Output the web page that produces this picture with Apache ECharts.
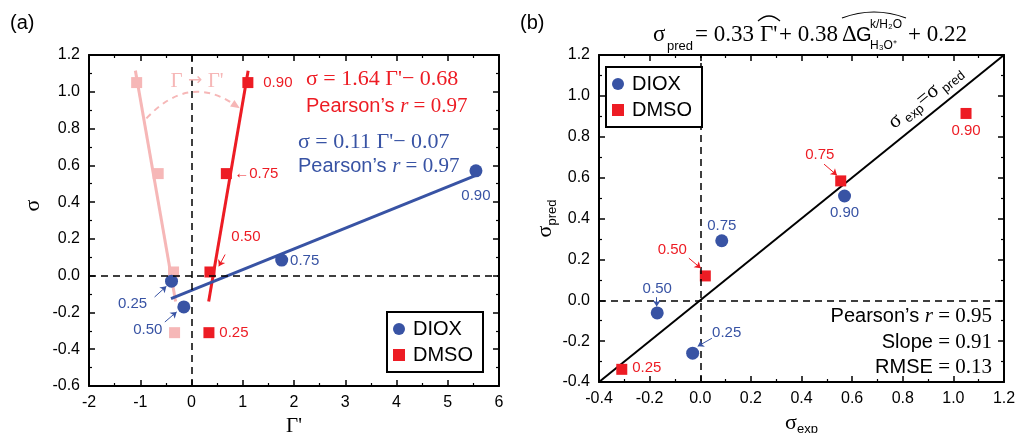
<!DOCTYPE html>
<html><head><meta charset="utf-8">
<script src="https://cdn.jsdelivr.net/npm/echarts@6/dist/echarts.min.js"></script>
<style>html,body{margin:0;padding:0;background:#fff}#c{width:1016px;height:433px}</style>
</head><body><div id="c"></div>
<script>
// ---------- data ----------
const fractions = ['0.25', '0.50', '0.75', '0.90'];
// panel (a)
const gammaTicks = [-2, -1, 0, 1, 2, 3, 4, 5, 6];
const sigmaTicksA = [-0.6, -0.4, -0.2, 0.0, 0.2, 0.4, 0.6, 0.8, 1.0, 1.2];
const dioxGammaPrime = [-0.39, -0.15, 1.76, 5.55];
const dioxSigmaExp = [-0.03, -0.17, 0.085, 0.57];
const dmsoGammaPrime = [0.34, 0.36, 0.68, 1.10];
const dmsoGamma = [-0.33, -0.35, -0.65, -1.07];
const dmsoSigmaExp = [-0.31, 0.02, 0.555, 1.05];
const dioxFitX = [-0.40, 5.55];
const dioxFitY = [-0.125, 0.545];
const dmsoFitX = [0.335, 1.105];
const dmsoFitY = [-0.14, 1.115];
const dmsoGammaFitX = [-0.31, -1.095];
const dmsoGammaFitY = [-0.14, 1.115];
// panel (b)
const sigmaTicksB = [-0.4, -0.2, 0.0, 0.2, 0.4, 0.6, 0.8, 1.0, 1.2];
const dioxSigmaPred = [-0.259, -0.062, 0.291, 0.51];
const dmsoSigmaPred = [-0.338, 0.119, 0.584, 0.914];
const parityLine = [-0.4, 1.2];

// ---------- styles / annotation placement ----------
const BLUE = '#3853a4', RED = '#ed1c24', PINK = '#f6b7b7', BLACK = '#000';
const SANS = 'Liberation Sans', SERIF = 'Liberation Serif';
const offA_diox = [[-39, 23], [-36, 23], [23, 1], [0, 25]];
const offA_dmso = [[25, 0], [36, -35], [30, 0], [30, 0]];
const preA_dmso = ['', '', '\u2190', ''];
const offB_diox = [[34, -20], [0, -24], [0, -15], [0, 17]];
const offB_dmso = [[25, -1], [-33, -26], [-21, -26], [0, 17]];
const arrowsA_diox = [[[-0.72, -0.116], [-0.49, -0.058]], [[-0.52, -0.252], [-0.29, -0.197]]];
const arrowsA_dmso = [[[0.656, 0.115], [0.533, 0.051]]];
const arcA = [[-0.88, 0.855], [0.91, 0.917]];   // Γ → Γ' arc (data units), bulge factor below
const arcBulge = 0.42;
const arrowsB_diox = [[[-0.172, 0.015], [-0.172, -0.03]], [[0.046, -0.186], [-0.01, -0.225]]];
const arrowsB_dmso = [[[0.489, 0.666], [0.54, 0.612]], [[-0.045, 0.206], [0.002, 0.157]]];

function zip(xs, ys) { return xs.map((x, i) => [x, ys[i]]); }
function pts(xs, ys, offs, color, pre) {
  return xs.map((x, i) => ({
    value: [x, ys[i]],
    label: { show: true, position: 'inside', offset: offs[i], align: 'center', verticalAlign: 'middle',
      formatter: (pre ? pre[i] : '') + fractions[i], color: color, fontSize: 15, fontFamily: SANS }
  }));
}
function arrows(list, color) {
  return {
    silent: true, animation: false, symbol: ['none', 'arrow'], symbolSize: 6,
    label: { show: false }, emphasis: { disabled: true },
    lineStyle: { color: color, width: 1, type: 'solid' },
    data: list.map(a => [{ coord: a[0] }, { coord: a[1] }])
  };
}
const zeroLines = {
  silent: true, animation: false, symbol: ['none', 'none'], label: { show: false },
  emphasis: { disabled: true },
  lineStyle: { color: BLACK, width: 1.5, type: [7, 5] },
  data: [{ xAxis: 0 }, { yAxis: 0 }]
};
const subRich = {
  s: { fontFamily: SERIF, fontSize: 22, color: BLACK, verticalAlign: 'top' },
  b: { fontFamily: SANS, fontSize: 13, color: BLACK, verticalAlign: 'top', padding: [11, 0, 0, 0] }
};

function axis(ticks, pos, grid, showLabel, name, nameGap, nameStyle, digits) {
  return {
    type: 'value', gridIndex: grid, position: pos,
    min: ticks[0], max: ticks[ticks.length - 1], interval: +(ticks[1] - ticks[0]).toFixed(3),
    name: name || '', nameLocation: 'middle', nameGap: nameGap || 0,
    nameTextStyle: nameStyle || {},
    axisLine: { show: true, onZero: false, lineStyle: { color: BLACK, width: 2 } },
    axisTick: { show: true, inside: true, length: 6, lineStyle: { color: BLACK, width: 1.5 } },
    minorTick: { show: true, splitNumber: 2, length: 3, lineStyle: { color: BLACK, width: 1.2 } },
    splitLine: { show: false }, minorSplitLine: { show: false },
    axisLabel: { show: showLabel, color: BLACK, fontSize: 16, fontFamily: SANS, margin: 9,
      formatter: v => v.toFixed(digits) }
  };
}

const option = {
  animation: false,
  backgroundColor: '#fff',
  grid: [
    { left: 89, top: 55, right: 517, bottom: 47, containLabel: false, outerBoundsMode: 'none' },
    { left: 599, top: 55, right: 12, bottom: 51, containLabel: false, outerBoundsMode: 'none' }
  ],
  xAxis: [
    axis(gammaTicks, 'bottom', 0, true, "\u0393'", 30, { fontFamily: SERIF, fontSize: 21, color: BLACK, verticalAlign: 'top' }, 0),
    axis(gammaTicks, 'top', 0, false, '', 0, null, 0),
    axis(sigmaTicksB, 'bottom', 1, true, '{s|\u03c3}{b|exp}', 26, { verticalAlign: 'top', rich: subRich }, 1),
    axis(sigmaTicksB, 'top', 1, false, '', 0, null, 1)
  ],
  yAxis: [
    axis(sigmaTicksA, 'left', 0, true, '\u03c3', 45, { fontFamily: SERIF, fontSize: 22, color: BLACK, padding: [0, 0, 0, 30] }, 1),
    axis(sigmaTicksA, 'right', 0, false, '', 0, null, 1),
    axis(sigmaTicksB, 'left', 1, true, '{s|\u03c3}{b|pred}', 40, { rich: subRich }, 1),
    axis(sigmaTicksB, 'right', 1, false, '', 0, null, 1)
  ],
  legend: [0, 1].map(i => ({
    data: [{ name: 'DIOX', icon: 'circle' }, { name: 'DMSO', icon: 'rect' }],
    orient: 'vertical', left: i ? 606 : 387, top: i ? 67 : 312,
    itemWidth: 12, itemHeight: 12, itemGap: 6, padding: [7, 10, 7, 6],
    borderColor: BLACK, borderWidth: 2, borderRadius: 0, backgroundColor: '#fff',
    selectedMode: false, z: 10,
    textStyle: { color: BLACK, fontSize: 20, fontFamily: SANS, padding: [0, 0, 0, 3] }
  })),
  series: [
    { type: 'line', name: 'DMSO \u0393 fit', xAxisIndex: 0, yAxisIndex: 0, data: zip(dmsoGammaFitX, dmsoGammaFitY),
      symbol: 'none', lineStyle: { color: PINK, width: 3 }, z: 2, silent: true, markLine: zeroLines },
    { type: 'line', name: 'DMSO fit', xAxisIndex: 0, yAxisIndex: 0, data: zip(dmsoFitX, dmsoFitY),
      symbol: 'none', lineStyle: { color: RED, width: 3 }, z: 2, silent: true },
    { type: 'line', name: 'DIOX fit', xAxisIndex: 0, yAxisIndex: 0, data: zip(dioxFitX, dioxFitY),
      symbol: 'none', lineStyle: { color: BLUE, width: 3 }, z: 2, silent: true },
    { type: 'scatter', name: 'DMSO \u0393', xAxisIndex: 0, yAxisIndex: 0, data: zip(dmsoGamma, dmsoSigmaExp),
      symbol: 'rect', symbolSize: 11, itemStyle: { color: PINK, opacity: 1 }, z: 3 },
    { type: 'scatter', name: 'DMSO', xAxisIndex: 0, yAxisIndex: 0,
      data: pts(dmsoGammaPrime, dmsoSigmaExp, offA_dmso, RED, preA_dmso),
      symbol: 'rect', symbolSize: 11, itemStyle: { color: RED, opacity: 1 }, z: 4,
      markLine: arrows(arrowsA_dmso, RED) },
    { type: 'scatter', name: 'DIOX', xAxisIndex: 0, yAxisIndex: 0,
      data: pts(dioxGammaPrime, dioxSigmaExp, offA_diox, BLUE),
      symbol: 'circle', symbolSize: 13, itemStyle: { color: BLUE, opacity: 1 }, z: 4,
      markLine: arrows(arrowsA_diox, BLUE) },
    { type: 'line', name: 'parity', xAxisIndex: 2, yAxisIndex: 2, data: zip(parityLine, parityLine),
      symbol: 'none', lineStyle: { color: BLACK, width: 2 }, z: 2, silent: true, markLine: zeroLines },
    { type: 'scatter', name: 'DMSO', xAxisIndex: 2, yAxisIndex: 2,
      data: pts(dmsoSigmaExp, dmsoSigmaPred, offB_dmso, RED),
      symbol: 'rect', symbolSize: 11, itemStyle: { color: RED, opacity: 1 }, z: 4,
      markLine: arrows(arrowsB_dmso, RED) },
    { type: 'scatter', name: 'DIOX', xAxisIndex: 2, yAxisIndex: 2,
      data: pts(dioxSigmaExp, dioxSigmaPred, offB_diox, BLUE),
      symbol: 'circle', symbolSize: 13, itemStyle: { color: BLUE, opacity: 1 }, z: 4,
      markLine: arrows(arrowsB_diox, BLUE) }
  ]
};

// ---------- free text annotations ----------
const statRich = {
  sans: { fontFamily: SANS, fontSize: 20 },
  it: { fontFamily: SERIF, fontStyle: 'italic', fontSize: 21 },
  ser: { fontFamily: SERIF, fontSize: 21 }
};
function txt(x, y, text, extra) {
  const st = Object.assign({ text: text, x: x, y: y, fill: BLACK, fontFamily: SANS, fontSize: 20,
    align: 'left', textAlign: 'left', verticalAlign: 'middle', textVerticalAlign: 'middle' }, extra || {});
  if (st.align) st.textAlign = st.align;
  return { type: 'text', z: 20, silent: true, style: st };
}
const eqRich = { e: { fontFamily: SERIF, fontSize: 22 } };
const graphics = [
  txt(10, 23, '(a)'),
  txt(520, 23, '(b)'),
  txt(306, 79, "{e|\u03c3 = 1.64 \u0393'\u2212 0.68}", { fill: RED, rich: eqRich }),
  txt(306, 106, '{sans|Pearson\u2019s }{it|r}{ser| = 0.97}', { fill: RED, rich: statRich }),
  txt(298, 142, "{e|\u03c3 = 0.11 \u0393'\u2212 0.07}", { fill: BLUE, rich: eqRich }),
  txt(298, 166, '{sans|Pearson\u2019s }{it|r}{ser| = 0.97}', { fill: BLUE, rich: statRich }),
  txt(197, 81, "{g|\u0393}{a| \u2192 }{g|\u0393'}", { fill: PINK, align: 'center',
    rich: { g: { fontFamily: SERIF, fontSize: 21 }, a: { fontFamily: 'DejaVu Sans', fontSize: 17 } } }),
  txt(992, 316, '{sans|Pearson\u2019s }{it|r}{ser| = 0.95}', { rich: statRich, align: 'right' }),
  txt(992, 342, '{sans|Slope}{ser| = 0.91}', { rich: statRich, align: 'right' }),
  txt(992, 367, '{sans|RMSE}{ser| = 0.13}', { rich: statRich, align: 'right' }),
  { type: 'text', z: 20, silent: true, x: 926, y: 98, rotation: 0.679,
    style: { text: '{s|\u03c3}{b| exp}{s|=\u03c3}{b| pred}', x: 0, y: 0, fill: BLACK,
      align: 'center', textAlign: 'center', verticalAlign: 'middle', textVerticalAlign: 'middle',
      rich: { s: { fontFamily: SERIF, fontSize: 21, verticalAlign: 'top' },
              b: { fontFamily: SANS, fontSize: 13, verticalAlign: 'top', padding: [10, 0, 0, 0] } } } },
  txt(653, 35, '\u03c3', { fontFamily: SERIF, fontSize: 23 }),
  txt(667, 46, 'pred', { fontSize: 13 }),
  txt(695, 35, '= 0.33', { fontFamily: SERIF, fontSize: 23 }),
  txt(760, 35, "\u0393'", { fontFamily: SERIF, fontSize: 23 }),
  txt(779, 35, '+ 0.38', { fontFamily: SERIF, fontSize: 23 }),
  txt(842, 35, '\u0394', { fontFamily: SERIF, fontSize: 23 }),
  txt(856, 35, 'G', { fontSize: 20 }),
  txt(870, 25, 'k/H\u2082O', { fontSize: 12 }),
  txt(870, 46, 'H\u2083O\u207a', { fontSize: 12 }),
  txt(908, 35, '+ 0.22', { fontFamily: SERIF, fontSize: 23 }),
  { type: 'bezierCurve', z: 20, silent: true, shape: { x1: 758, y1: 21, x2: 780, y2: 21, cpx1: 769, cpy1: 11 },
    style: { stroke: BLACK, lineWidth: 1.2, fill: null } },
  { type: 'bezierCurve', z: 20, silent: true, shape: { x1: 842, y1: 18, x2: 906, y2: 18, cpx1: 874, cpy1: 6 },
    style: { stroke: BLACK, lineWidth: 1.2, fill: null } }
];
option.graphic = graphics;

const chart = echarts.init(document.getElementById('c'), null, { renderer: 'canvas' });
chart.setOption(option);

// dashed Γ → Γ' arc arrow, placed through the grid's own coordinate conversion
const p1 = chart.convertToPixel({ gridIndex: 0 }, arcA[0]);
const p2 = chart.convertToPixel({ gridIndex: 0 }, arcA[1]);
const mx = (p1[0] + p2[0]) / 2, my = (p1[1] + p2[1]) / 2;
const dx = p2[0] - p1[0], dy = p2[1] - p1[1];
const cp = [mx + dy * arcBulge, my - dx * arcBulge];
const tx = p2[0] - cp[0], ty = p2[1] - cp[1], tl = Math.hypot(tx, ty);
const ux = tx / tl, uy = ty / tl, ah = 9, aw = 4;
const tip = [p2[0] + ux * 2, p2[1] + uy * 2];
const base = [tip[0] - ux * ah, tip[1] - uy * ah];
graphics.push(
  { type: 'bezierCurve', z: 5, silent: true,
    shape: { x1: p1[0], y1: p1[1], x2: base[0], y2: base[1], cpx1: cp[0], cpy1: cp[1] },
    style: { stroke: PINK, lineWidth: 2, fill: null, lineDash: [6, 5] } },
  { type: 'polygon', z: 5, silent: true,
    shape: { points: [tip, [base[0] - uy * aw, base[1] + ux * aw], [base[0] + uy * aw, base[1] - ux * aw]] },
    style: { fill: PINK } }
);
chart.setOption({ graphic: graphics });
</script></body></html>
